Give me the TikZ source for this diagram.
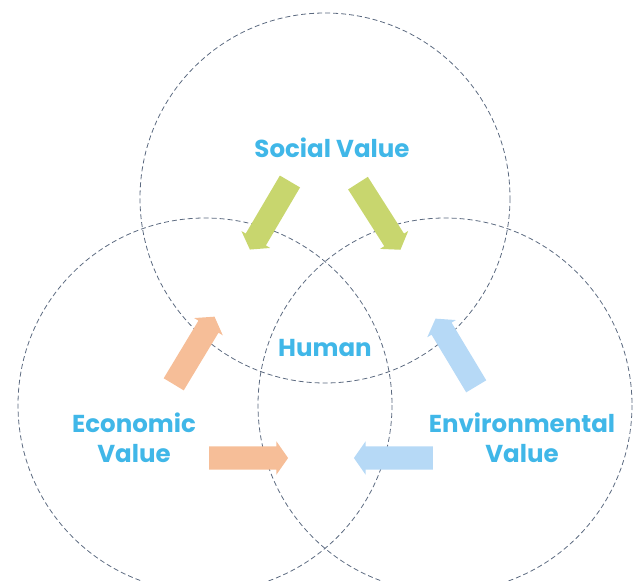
\documentclass[tikz,border=0pt]{standalone}
\usepackage{fontspec}
\setmainfont{Poppins}
\usepackage{xcolor}
\usepackage{tikz}
\usetikzlibrary{shapes.arrows}

\definecolor{valuetext}{RGB}{64,183,232}
\definecolor{ringline}{RGB}{92,106,128}
\definecolor{socialgreen}{RGB}{200,214,110}
\definecolor{econorange}{RGB}{246,190,152}
\definecolor{envblue}{RGB}{182,217,246}

\begin{document}
\begin{tikzpicture}[
  x=1pt, y=-1pt,
  ring/.style={draw=ringline, line width=0.8pt, dash pattern=on 5pt off 3pt},
  label/.style={text=valuetext, font=\bfseries\fontsize{24.5}{30}\selectfont, align=center, inner sep=0pt},
  block/.style={single arrow, draw=none, inner xsep=0pt, inner ysep=11.5pt,
    single arrow head extend=5pt, single arrow tip angle=110, minimum height=79pt}
]
\clip (0,0) rectangle (633,581);
\useasboundingbox (0,0) rectangle (633,581);

% the three value rings
\draw[ring] (325,198) circle (185);
\draw[ring] (205,405) circle (187);
\draw[ring] (445,405) circle (187);

% labels
\node[label] (social) at (332,148) {Social Value};
\node[label] (human) at (325,348) {Human};
\node[label] (econ) at (134,438) {Economic\\Value};
\node[label] (env) at (522,438) {Environmental\\Value};

% block arrows
\node[block, fill=socialgreen, rotate=239.5] (sl) at (272,212) {};
\node[block, fill=socialgreen, rotate=302.5] (sr) at (377,213) {};
\node[block, fill=econorange, rotate=58.9] (eu) at (192,354) {};
\node[block, fill=econorange, rotate=0] (er) at (244.5,458) {};
\node[block, fill=envblue, rotate=121] (nu) at (458,356) {};
\node[block, fill=envblue, rotate=180] (nl) at (397.5,458) {};
\end{tikzpicture}
\end{document}
